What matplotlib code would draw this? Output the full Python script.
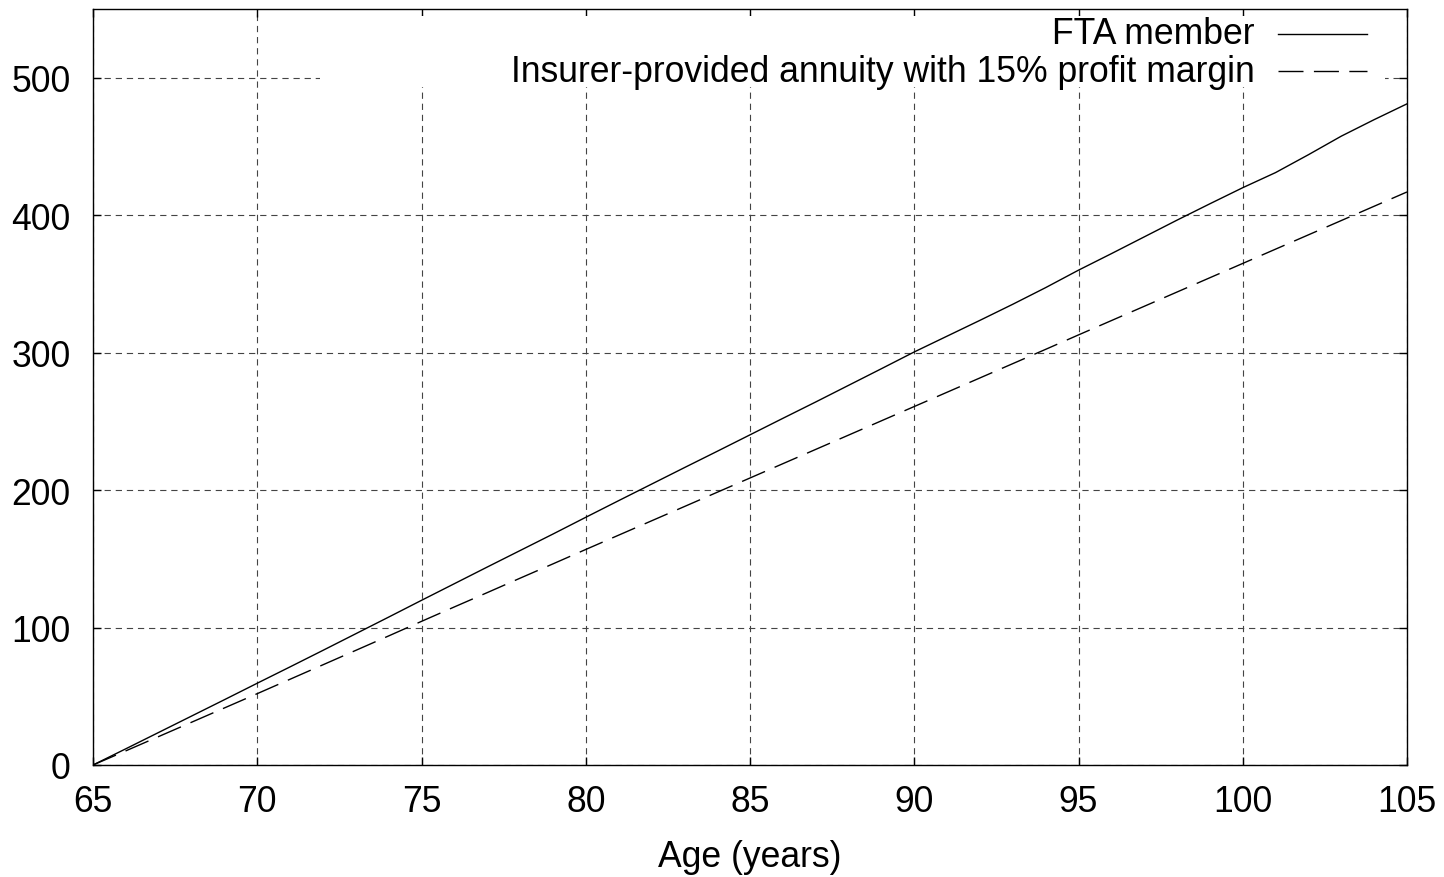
import matplotlib
matplotlib.use("Agg")
import matplotlib.pyplot as plt
from matplotlib.patches import Rectangle
from matplotlib.lines import Line2D

plt.rcParams['font.family'] = ['Liberation Sans', 'DejaVu Sans']
plt.rcParams['lines.scale_dashes'] = False

# age in years
age = list(range(65, 106))

# FTA member
fta = [0, 11.8, 23.7, 35.6, 47.5, 59.5, 71.4, 83.4, 95.5, 107.6,
       119.8, 131.9, 144.0, 156.0, 168.0, 180.2, 192.3, 204.3, 216.3, 228.2,
       240.2, 252.2, 264.1, 276.2, 288.3, 300.5, 312.0, 323.5, 335.2, 347.3,
       360.0, 372.0, 384.2, 396.4, 408.3, 420.0, 431.0, 444.0, 457.5, 469.5,
       481.0]

# insurer-provided annuity, 15% margin
annuity = [0, 10.3, 20.7, 31.1, 41.5, 51.9, 62.4, 72.9, 83.4, 93.9,
           104.5, 115.0, 125.4, 135.9, 146.3, 156.8, 167.2, 177.6, 188.0, 198.4,
           208.8, 219.2, 229.6, 240.0, 250.4, 260.8, 271.2, 281.6, 292.0, 302.4,
           312.9, 323.3, 333.7, 344.1, 354.5, 364.9, 375.3, 385.7, 396.1, 406.5,
           416.9]

labels = ["FTA member", "Insurer-provided annuity with 15% profit margin"]
xticks = list(range(65, 106, 5))
yticks = list(range(0, 501, 100))

FS = 25.6
W, H = 1444, 878
fig = plt.figure(figsize=(W / 100, H / 100), dpi=100)
ax = fig.add_axes([93 / W, (H - 766) / H, (1407 - 93) / W, (766 - 10) / H])

ax.set_xlim(65, 105)
ax.set_ylim(0, 550)
ax.set_xticks(xticks)
ax.set_yticks(yticks)
ax.tick_params(direction='in', length=6, width=1, top=True, right=True,
               labelsize=FS, colors='black')
ax.tick_params(axis='x', pad=14)
ax.tick_params(axis='y', pad=16)
ax.set_axisbelow(True)
ax.grid(True, color='#444444', linestyle=(0, (4.5, 3.5)), linewidth=0.8)
for s in ax.spines.values():
    s.set_linewidth(1)

ax.plot(age, fta, color='black', linewidth=1, zorder=3)
ax.plot(age, annuity, color='black', linewidth=1, linestyle=(0, (18, 7.5)), zorder=3)

# opaque key area
def px(x, y):
    return ((x - 93) / (1407 - 93), (766 - y) / (766 - 10))

x0, y0 = px(320, 88)
x1, y1 = px(1385, 17)
ax.add_patch(Rectangle((x0, y0), x1 - x0, y1 - y0, transform=ax.transAxes,
                       facecolor='white', edgecolor='none', zorder=1))

styles = ['-', (0, (18, 7.5))]
for i, (lab, ls) in enumerate(zip(labels, styles)):
    yrow = 35 + i * 37
    tx, ty = px(1255, yrow)
    ax.text(tx, ty, lab, transform=ax.transAxes, ha='right', va='center',
            fontsize=FS, zorder=4)
    lx0, ly = px(1278, yrow)
    lx1, _ = px(1367, yrow)
    ax.add_line(Line2D([lx0, lx1], [ly, ly], transform=ax.transAxes,
                       color='black', linewidth=1, linestyle=ls, zorder=4))

ax.set_xlabel("Age (years)", fontsize=FS, labelpad=14)

fig.savefig("out.png", dpi=100)
